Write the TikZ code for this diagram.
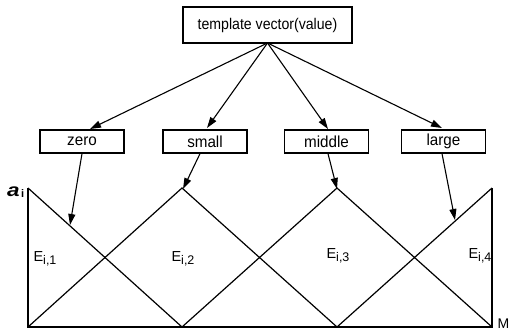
\documentclass[tikz,border=0pt]{standalone}
\usepackage{fontspec}
\setmainfont{Liberation Sans}
\usetikzlibrary{arrows.meta}
\newcommand{\esub}[1]{E\raisebox{-3.5pt}{\fontsize{12.5}{13}\selectfont #1}}
\begin{document}
\begin{tikzpicture}[x=1pt,y=-1pt,
  line width=1.3pt,
  box/.style={draw, line width=1.3pt, minimum width=84pt, minimum height=23pt, inner sep=0pt, font=\fontsize{16}{17}\selectfont},
  arr/.style={-{Triangle[length=11pt,width=7pt]}, line width=1.1pt},
  lbl/.style={font=\fontsize{14.5}{15}\selectfont, inner sep=0pt}
]
\useasboundingbox (0,0) rectangle (510,332);

% boxes
\node[box, minimum width=169pt, minimum height=36pt, font=\fontsize{15.5}{16}\selectfont] (top) at (267.5,25) {\scalebox{0.91}[1]{template vector(value)}};
\node[box] (zero)   at (82,141.5)  {\scalebox{0.95}[1]{zero}};
\node[box] (small)  at (205,141.5) {\scalebox{0.95}[1]{small}};
\node[box] (middle) at (326.5,141.5) {\scalebox{0.95}[1]{middle}};
\node[box] (large)  at (443.5,141.5) {\scalebox{0.95}[1]{large}};

% membership functions
\coordinate (b1) at (28,327);
\coordinate (b2) at (182,327);
\coordinate (b3) at (337,327);
\coordinate (b4) at (492,327);
\coordinate (p1) at (28,188);
\coordinate (p2) at (182,188);
\coordinate (p3) at (337,188);
\coordinate (p4) at (492,188);
\draw[line width=1.2pt] (p1) -- (b1) -- (b4) -- (p4);
\draw[line width=1.2pt] (p1) -- (b2);
\draw[line width=1.2pt] (b1) -- (p2) -- (b3);
\draw[line width=1.2pt] (b2) -- (p3) -- (b4);
\draw[line width=1.2pt] (b3) -- (p4);

% axis labels
\node[font=\fontsize{18}{18}\selectfont\bfseries\itshape, inner sep=0pt, anchor=base] (ai) at (13.5,196) {\scalebox{1.25}[1]{a}};
\node[font=\fontsize{11}{11}\selectfont\bfseries, inner sep=0pt, anchor=base west] (aisub) at (20.5,197) {i};
\node[font=\fontsize{14}{14}\selectfont, inner sep=0pt, anchor=base east] (mlab) at (510,328) {M};

% region labels
\node[lbl] (e1) at (45,259) {\esub{i,1}};
\node[lbl] (e2) at (183,259) {\esub{i,2}};
\node[lbl] (e3) at (338,256) {\esub{i,3}};
\node[lbl] (e4) at (480,256) {\esub{i,4}};

% arrows from the template vector
\coordinate (src) at (267.5,43);
\coordinate (tz) at (90,129);
\coordinate (ts) at (207,128);
\coordinate (tm) at (328,129);
\coordinate (tl) at (442,128);
\draw[arr] (src) -- (tz);
\draw[arr] (src) -- (ts);
\draw[arr] (src) -- (tm);
\draw[arr] (src) -- (tl);

% arrows to the membership functions
\coordinate (hz) at (70,225);
\coordinate (hs) at (183,189);
\coordinate (hm) at (337,189);
\coordinate (hl) at (455,220);
\draw[arr] (zero.south) -- (hz);
\draw[arr] (small.south -| 200,0) -- (hs);
\draw[arr] (middle.south -| 328,0) -- (hm);
\draw[arr] (large.south -| 442,0) -- (hl);
\end{tikzpicture}
\end{document}
